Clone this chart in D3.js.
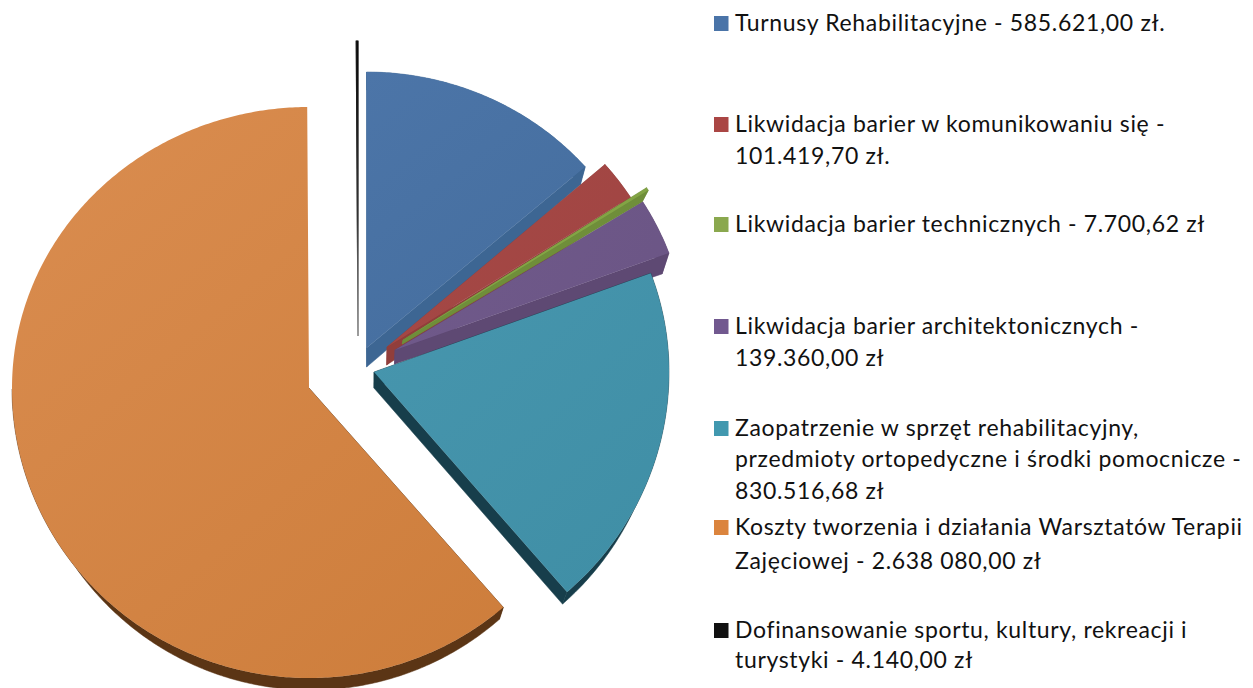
<!DOCTYPE html>
<html><head><meta charset="utf-8">
<script src="https://cdn.jsdelivr.net/npm/d3@7/dist/d3.min.js"></script>
<style>html,body{margin:0;padding:0;background:#fff}svg{display:block}</style>
</head><body><svg id="c" width="1253" height="688"></svg>
<script>
const categories = ["Turnusy Rehabilitacyjne","Likwidacja barier w komunikowaniu się","Likwidacja barier technicznych","Likwidacja barier architektonicznych","Zaopatrzenie w sprzęt rehabilitacyjny","Koszty tworzenia i działania WTZ","Dofinansowanie sportu"];
const values = [585621.00, 101419.70, 7700.62, 139360.00, 830516.68, 2638080.00, 4140.00];
const legendLines = [
 ["Turnusy Rehabilitacyjne - 585.621,00 zł."],
 ["Likwidacja barier w komunikowaniu się -","101.419,70 zł."],
 ["Likwidacja barier technicznych - 7.700,62 zł"],
 ["Likwidacja barier architektonicznych -","139.360,00 zł"],
 ["Zaopatrzenie w sprzęt rehabilitacyjny,","przedmioty ortopedyczne i środki pomocnicze -","830.516,68 zł"],
 ["Koszty tworzenia i działania Warsztatów Terapii","Zajęciowej - 2.638 080,00 zł"],
 ["Dofinansowanie sportu, kultury, rekreacji i","turystyki - 4.140,00 zł"]
];
// styling / layout, per slice
const topColors = [["#4c75a8","#446d9d"],["#a64845","#a04543"],["#86a848","#80a243"],["#705a8b","#6b5585"],["#4796ae","#3f8ea5"],["#da8d50","#cd7d3b"],["#000","#333"]];
const wallColors = ["#3d6693","#913e3b","#6f8e3a","#5e4973","#173e4b","#5b3515","#777"];
const legendColors = ["#4a74a8","#aa4644","#8aa84e","#71588f","#4198af","#db843d","#111"];
const geom = [
 {ax:366.5,ay:348,rx:290,ryT:276,ryB:276,dyA:19,dyO:18},
 {ax:387,ay:347,rx:289,ryT:278,ryB:278,dyA:18,dyO:12},
 {ax:403,ay:340,rx:289,ryT:283,ryB:283,dyA:4,dyO:12},
 {ax:395,ay:350,rx:292,ryT:280,ryB:280,dyA:14,dyO:21},
 {ax:374,ay:372,rx:295,ryT:285,ryB:291,dyA:16,dyO:12},
 {ax:309,ay:388,rx:297,ryT:281,ryB:290,dyA:12,dyO:12},
 {ax:358,ay:336,rx:297,ryT:295,ryB:295,dyA:0,dyO:0}
];
const legendBaselines = [[31],[132,164],[232],[334,366],[436,467,499],[535,569],[638,668]];
const vanishX = 372, wallK = 0.023, orangeWallK = 0.03;

const svg = d3.select("#c");
const defs = svg.append("defs");
const pie = d3.pie().sort(null).startAngle(0).endAngle(2*Math.PI);
const arcs = pie(values);
const line = d3.line();

arcs.forEach((a,i)=>{
  const g = geom[i];
  const sx = d3.scaleLinear().domain([-1,1]).range([g.ax-g.rx,g.ax+g.rx]);
  const sy = d3.scaleLinear().domain([-1,0,1]).range([g.ay+g.ryB,g.ay,g.ay-g.ryT]);
  const n = Math.max(2,Math.ceil((a.endAngle-a.startAngle)/0.01));
  const apex = {x:g.ax,y:g.ay,t:0};
  const rim = d3.range(n+1).map(k=>{
    const th = a.startAngle+(a.endAngle-a.startAngle)*k/n;
    return {x:sx(Math.sin(th)),y:sy(Math.cos(th)),t:1};
  });
  const top = [apex].concat(rim);
  const off = p=>{
    const dy = g.dyA+(g.dyO-g.dyA)*p.t;
    const dx = i===6?0:-(i===5?orangeWallK:wallK)*(p.x-vanishX);
    return [p.x+dx,p.y+dy];
  };
  const G = svg.append("g").attr("class","slice");
  const wall = pts => G.append("path").attr("d",line(pts)+"Z")
      .attr("fill",wallColors[i]).attr("stroke",wallColors[i]).attr("stroke-width",0.5);
  const xy = p=>[p.x,p.y];
  // rim band as a single polygon, then the two cut faces
  const band = i===5 ? rim.filter(p=>p.y>g.ay) : rim;
  wall(band.map(xy).concat(band.slice().reverse().map(off)));
  wall([xy(apex),xy(rim[0]),off(rim[0]),off(apex)]);
  if(i!==5) wall([xy(apex),xy(rim[n]),off(rim[n]),off(apex)]);
  const gid="t"+i;
  const ext=[d3.min(top,d=>d.x),d3.min(top,d=>d.y),d3.max(top,d=>d.x),d3.max(top,d=>d.y)];
  const lg=defs.append("linearGradient").attr("id",gid).attr("gradientUnits","userSpaceOnUse")
    .attr("x1",ext[0]).attr("y1",ext[1]).attr("x2",i===6?ext[0]:ext[2]).attr("y2",ext[3]);
  lg.append("stop").attr("offset",0).attr("stop-color",topColors[i][0]);
  lg.append("stop").attr("offset",1).attr("stop-color",topColors[i][1]);
  G.append("path").attr("d",line(top.map(xy))+"Z").attr("fill","url(#"+gid+")");
  if(i===6){
    const lb=defs.append("linearGradient").attr("id","blackLine").attr("gradientUnits","userSpaceOnUse")
      .attr("x1",0).attr("y1",ext[1]).attr("x2",0).attr("y2",ext[3]);
    lb.append("stop").attr("offset",0).attr("stop-color","#111");
    lb.append("stop").attr("offset",0.6).attr("stop-color","#333");
    lb.append("stop").attr("offset",1).attr("stop-color","#999");
    G.append("path").attr("d",line(top.map(xy))+"Z").attr("fill","none")
      .attr("stroke","url(#blackLine)").attr("stroke-width",1.1);
  }
});

const leg = svg.append("g").attr("class","legend");
legendLines.forEach((lines,i)=>{
  leg.append("rect").attr("x",714).attr("y",legendBaselines[i][0]-15).attr("width",14.5).attr("height",15).attr("fill",legendColors[i]);
  lines.forEach((t,k)=>{
    leg.append("text").attr("x",735).attr("y",legendBaselines[i][k]).text(t)
      .attr("font-family","Lato, sans-serif").attr("font-size",23).attr("letter-spacing",0.66).attr("fill","#111");
  });
});
</script></body></html>
